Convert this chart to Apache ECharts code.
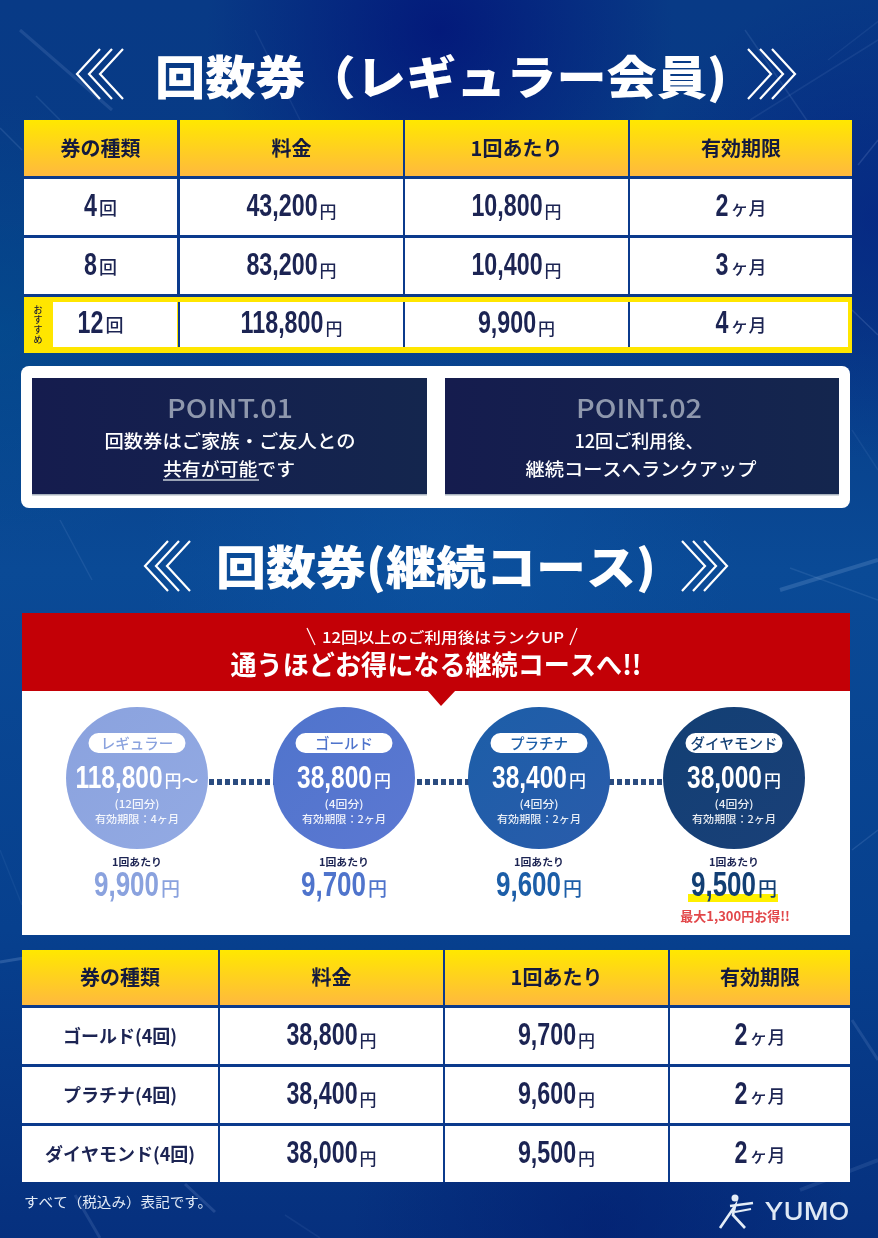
<!DOCTYPE html>
<html>
<head>
<meta charset="utf-8">
<style>html,body{margin:0;padding:0;background:#06307f}#main{width:878px;height:1238px}</style>
<script src="https://cdn.jsdelivr.net/npm/echarts@6/dist/echarts.min.js"></script>
</head>
<body>
<div id="main"></div>
<script>
// table headers
const headers = ['券の種類', '料金', '1回あたり', '有効期限'];

// 回数券 (レギュラー会員)
const regularCounts = [4, 8, 12];
const regularPrices = [43200, 83200, 118800];
const regularPerUse = [10800, 10400, 9900];
const regularMonths = [2, 3, 4];

// 継続コース
const courseNames = ['ゴールド', 'プラチナ', 'ダイヤモンド'];
const courseCounts = [4, 4, 4];
const coursePrices = [38800, 38400, 38000];
const coursePerUse = [9700, 9600, 9500];
const courseMonths = [2, 2, 2];

// rank ladder
const rankNames = ['レギュラー', 'ゴールド', 'プラチナ', 'ダイヤモンド'];
const rankPrices = [118800, 38800, 38400, 38000];
const rankCounts = [12, 4, 4, 4];
const rankMonths = [4, 2, 2, 2];
const rankPerUse = [9900, 9700, 9600, 9500];
const maxSaving = 1300;

const pointTitles = ['POINT.01', 'POINT.02'];

const JP = '"Noto Sans CJK JP"';
const NUM = '"Liberation Sans"';
const INK = '#1c2453';
const LINE = '#0b3a8c';
const rankColors = [['#8aa2de', '#93aae3'], ['#4f74cc', '#5c78d2'], ['#1c5ea8', '#2a5cab'], ['#123f74', '#1a4078']];
const rankCenters = [115, 322, 517, 712];   // axis units of the ladder grid

const yen = n => n.toLocaleString('en-US');
const measure = document.createElement('canvas').getContext('2d');

function textWidth(text, font) {
    measure.font = font;
    return measure.measureText(text).width;
}

// condensed number plus a small unit, centred on cx. no narrow font is installed so the digits get squeezed
function numberWithUnit(cx, cy, o) {
    var numFont = 'bold ' + o.size + 'px ' + NUM;
    var unitFont = '500 ' + o.unitSize + 'px ' + JP;
    var numW = textWidth(o.num, numFont) * o.squeeze;
    var left = cx - (numW + 2 + textWidth(o.unit, unitFont)) / 2;
    return [
        { type: 'text', x: left, y: cy, scaleX: o.squeeze, style: { text: o.num, font: numFont, fill: o.color, align: 'left', verticalAlign: 'middle' } },
        { type: 'text', x: left + numW + 2, y: cy + o.drop, style: { text: o.unit, font: unitFont, fill: o.color, align: 'left', verticalAlign: 'middle' } }
    ];
}

// text squeezed or stretched to the width it has on the poster
function fit(text, cx, cy, font, color, width, z) {
    return {
        type: 'text', x: cx, y: cy, z: z || 5, silent: true,
        scaleX: width ? width / textWidth(text, font) : 1,
        style: { text: text, font: font, fill: color, textAlign: 'center', textVerticalAlign: 'middle' }
    };
}

function chevrons(ends, dir, cy, half, arm) {
    return ends.map(function (x) {
        return {
            type: 'polyline', z: 5, silent: true,
            shape: { points: [[x, cy - half], [x + dir * arm, cy], [x, cy + half]] },
            style: { stroke: '#fff', lineWidth: 2.2, fill: null }
        };
    });
}

function streak(x1, y1, x2, y2, op, w) {
    return {
        type: 'line', z: -1, silent: true,
        shape: { x1: x1, y1: y1, x2: x2, y2: y2 },
        style: { stroke: 'rgba(190,215,255,' + op + ')', lineWidth: w || 1.5 }
    };
}

function glow(cx, cy, r, color) {
    return {
        type: 'rect', z: -2, silent: true,
        shape: { x: 0, y: 0, width: 878, height: 1238 },
        style: { fill: new echarts.graphic.RadialGradient(cx / 878, cy / 1238, r / 1238, [
            { offset: 0, color: color }, { offset: 1, color: color.replace(/[\d.]+\)$/, '0)') }
        ], false) }
    };
}

function tableCells(first, prices, perUse, months) {
    var cells = headers.map(function (h, c) { return { col: c, row: 0, head: true, text: h }; });
    prices.forEach(function (p, i) {
        cells.push(Object.assign({ col: 0, row: i + 1 }, first[i]));
        cells.push({ col: 1, row: i + 1, num: yen(p), unit: '円', unitSize: 17, drop: 4.5 });
        cells.push({ col: 2, row: i + 1, num: yen(perUse[i]), unit: '円', unitSize: 17, drop: 4.5 });
        cells.push({ col: 3, row: i + 1, num: String(months[i]), unit: 'ヶ月', unitSize: 18, drop: 1 });
    });
    return cells;
}

function tableSeries(gridIndex, cols, rows, cells, featured) {
    return {
        type: 'custom', xAxisIndex: gridIndex, yAxisIndex: gridIndex, silent: true, z: 3,
        data: cells.map(function (c) { return [c.col, c.row]; }),
        renderItem: function (params, api) {
            var c = cells[params.dataIndex];
            var p0 = api.coord([cols[c.col][0], rows[c.row][0]]);
            var p1 = api.coord([cols[c.col][1], rows[c.row][1]]);
            var box = { x: p0[0], y: p0[1], width: p1[0] - p0[0], height: p1[1] - p0[1] };
            var kids = [];
            var cx = box.x + box.width / 2, cy = box.y + box.height / 2;
            if (c.head) {
                kids.push({ type: 'rect', shape: box, style: { fill: new echarts.graphic.LinearGradient(0, 0, 0, 1, [
                    { offset: 0, color: '#ffe800' }, { offset: 1, color: '#ffb93e' }
                ]) } });
                kids.push({ type: 'text', x: cx, y: cy, style: { text: c.text, font: 'bold 20px ' + JP, fill: '#141a3e', align: 'center', verticalAlign: 'middle' } });
                return { type: 'group', children: kids };
            }
            var inner = box;
            if (c.row === featured) {
                if (c.col === 0) {
                    // yellow frame of the recommended row, drawn once under its cells
                    var right = api.coord([cols[cols.length - 1][1], rows[c.row][1]]);
                    kids.push({ type: 'rect', shape: { x: box.x, y: box.y, width: right[0] - box.x, height: box.height + 1 }, style: { fill: '#ffe600' } });
                }
                inner = {
                    x: box.x + (c.col === 0 ? 29 : 0), y: box.y + 5,
                    width: box.width - (c.col === 0 ? 29 : c.col === cols.length - 1 ? 4 : 0), height: box.height - 10
                };
                if (c.col > 0) {
                    kids.push({ type: 'rect', shape: { x: box.x - 2, y: inner.y, width: 2, height: inner.height }, style: { fill: LINE } });
                }
            }
            kids.push({ type: 'rect', shape: inner, style: { fill: '#fff' } });
            if (c.row === featured && c.col === 0) {
                kids.push({ type: 'text', x: box.x + 14, y: cy, style: { text: 'お\nす\nす\nめ', font: '500 9px ' + JP, fill: '#1a1a33', align: 'center', verticalAlign: 'middle', lineHeight: 10 } });
            }
            if (c.text) {
                kids.push({ type: 'text', x: cx, y: cy, style: { text: c.text, font: 'bold 18px ' + JP, fill: INK, align: 'center', verticalAlign: 'middle' } });
            } else {
                kids = kids.concat(numberWithUnit(cx, cy, { num: c.num, size: 31, squeeze: 0.75, unit: c.unit, unitSize: c.unitSize, drop: c.drop, color: INK }));
            }
            return { type: 'group', children: kids };
        }
    };
}

function hiddenAxis(gridIndex, max, inverse) {
    return { type: 'value', gridIndex: gridIndex, min: 0, max: max, inverse: !!inverse, show: false, splitLine: { show: false } };
}

const regularFirst = regularCounts.map(n => ({ num: String(n), unit: '回', unitSize: 18, drop: 1 }));
const courseFirst = courseNames.map((n, i) => ({ text: n + '(' + courseCounts[i] + '回)' }));

const cols1 = [[0, 153], [156, 379], [381, 604], [606, 828]];
const rows1 = [[0, 56], [59, 115], [118, 174], [177, 232]];
const cols2 = [[0, 196], [198, 421], [423, 646], [648, 828]];
const rows2 = [[0, 55], [58, 114], [117, 173], [176, 232]];

const bg = [
    glow(440, 30, 330, 'rgba(2,18,120,0.8)'),
    glow(878, 220, 340, 'rgba(6,30,130,0.6)'),
    glow(0, 330, 320, 'rgba(0,90,150,0.4)'),
    glow(440, 560, 420, 'rgba(14,90,170,0.4)'),
    glow(600, 1230, 350, 'rgba(2,28,110,0.6)'),
    streak(20, 30, 112, 110, 0.12, 3), streak(36, 96, 60, 120, 0.1), streak(0, 128, 22, 150, 0.12),
    streak(255, 30, 300, 120, 0.07), streak(745, 30, 808, 122, 0.1), streak(828, 60, 880, 20, 0.07),
    streak(750, 120, 878, 40, 0.08), streak(858, 165, 878, 140, 0.14), streak(852, 310, 878, 335, 0.14),
    streak(60, 520, 92, 580, 0.09), streak(780, 590, 878, 560, 0.16, 4), streak(790, 568, 878, 600, 0.1),
    streak(852, 430, 878, 470, 0.07), streak(0, 850, 22, 905, 0.06), streak(852, 850, 878, 830, 0.12),
    streak(0, 962, 24, 958, 0.18, 3), streak(185, 1184, 215, 1212, 0.14, 3), streak(75, 1195, 100, 1238, 0.12, 3),
    streak(285, 1215, 320, 1238, 0.07), streak(800, 1190, 878, 1160, 0.1, 4), streak(852, 1020, 878, 1060, 0.12, 3)
];

const logo = [
    { type: 'circle', z: 5, shape: { cx: 735, cy: 1198, r: 3.5 }, style: { fill: '#e4edf7' } },
    { type: 'polyline', z: 5, shape: { points: [[730, 1206], [753, 1203]] }, style: { stroke: '#e4edf7', lineWidth: 2.6, fill: null } },
    { type: 'polyline', z: 5, shape: { points: [[720, 1228], [735, 1206], [733, 1215], [745, 1228]] }, style: { stroke: '#e4edf7', lineWidth: 2.6, fill: null } },
    { type: 'polyline', z: 5, shape: { points: [[735, 1212], [751, 1209]] }, style: { stroke: '#e4edf7', lineWidth: 2.2, fill: null } },
    fit('YUMO', 807, 1213, '500 24px Inter', '#dfe9f5', 85)
];

const panelBoxFill = () => new echarts.graphic.LinearGradient(0, 0, 1, 0, [{ offset: 0, color: '#151c4e' }, { offset: 1, color: '#14264e' }]);
const ptFont = '500 18px ' + JP;

const panel = [
    { type: 'rect', z: 4, shape: { x: 21, y: 366, width: 829, height: 142, r: 8 }, style: { fill: '#fff' } },
    { type: 'rect', z: 5, shape: { x: 32, y: 378, width: 395, height: 117 }, style: { fill: panelBoxFill() } },
    { type: 'rect', z: 5, shape: { x: 445, y: 378, width: 394, height: 117 }, style: { fill: panelBoxFill() } },
    { type: 'rect', z: 5, shape: { x: 32, y: 494, width: 395, height: 1.5 }, style: { fill: '#a8b2bd' } },
    { type: 'rect', z: 5, shape: { x: 445, y: 494, width: 394, height: 1.5 }, style: { fill: '#a8b2bd' } },
    fit(pointTitles[0], 230, 408, '500 26px ' + JP, '#8f98ad', 126, 6),
    fit(pointTitles[1], 639, 408, '500 26px ' + JP, '#8f98ad', 126, 6),
    fit('回数券はご家族・ご友人との', 230, 441, ptFont, '#fff', 251, 6),
    fit('共有が可能です', 229, 469, ptFont, '#fff', 132, 6),
    { type: 'rect', z: 6, shape: { x: 163, y: 479, width: 96, height: 2 }, style: { fill: '#9aa3b5' } },
    fit('12回ご利用後、', 639, 441, ptFont, '#fff', 129, 6),
    fit('継続コースへランクアップ', 641, 469, ptFont, '#fff', 231, 6)
];

const banner = [
    { type: 'rect', z: 4, shape: { x: 22, y: 613, width: 828, height: 78 }, style: { fill: '#c30006' } },
    { type: 'polygon', z: 4, shape: { points: [[427, 690], [456, 690], [441, 706]] }, style: { fill: '#c30006' } },
    fit('12回以上のご利用後はランクUP', 443, 637, '500 15px ' + JP, '#fff', 242),
    fit('通うほどお得になる継続コースへ!!', 436, 665, 'bold 27px ' + JP, '#fff', 411),
    { type: 'line', z: 5, shape: { x1: 307, y1: 628, x2: 315, y2: 645 }, style: { stroke: '#fff', lineWidth: 1.2 } },
    { type: 'line', z: 5, shape: { x1: 577, y1: 628, x2: 570, y2: 645 }, style: { stroke: '#fff', lineWidth: 1.2 } }
];

const titles = [
    fit('回数券（レギュラー会員)', 441, 77, '900 46px ' + JP, '#fff', 572),
    fit('回数券(継続コース)', 436, 567, '900 46px ' + JP, '#fff', 440),
    fit('すべて（税込み）表記です。', 118, 1202, '14px ' + JP, '#e3ebf6', 188)
].concat(
    chevrons([100, 112, 123], -1, 74, 25, 23),
    chevrons([748, 760, 772], 1, 74, 25, 23),
    chevrons([168, 179, 190], -1, 566, 25, 23),
    chevrons([682, 693, 704], 1, 566, 25, 23)
);

const LADDER_Y = 87;   // circle centre, axis units
const SMALL = 'rgba(255,255,255,0.9)';

function small(text, x, y, width, font, color) {
    return { type: 'text', x: x, y: y, scaleX: width / textWidth(text, font), style: { text: text, font: font, fill: color, align: 'center', verticalAlign: 'middle' } };
}

function rankLabels(params, api) {
    var i = params.dataIndex;
    var c = api.coord([rankCenters[i], LADDER_Y]);
    var color = rankColors[i][0];
    var x = c[0], y = c[1];
    var kids = [
        { type: 'rect', shape: { x: x - 48.5, y: y - 45, width: 97, height: 20, r: 10 }, style: { fill: '#fff' } },
        { type: 'text', x: x, y: y - 35, style: { text: rankNames[i], font: '500 14.5px ' + JP, fill: color, align: 'center', verticalAlign: 'middle' } },
        small('(' + rankCounts[i] + '回分)', x, y + 26, i === 0 ? 45 : 39, '500 10.5px ' + JP, SMALL),
        small('有効期限：' + rankMonths[i] + 'ヶ月', x, y + 41, 84, '500 10.5px ' + JP, SMALL),
        small('1回あたり', x, y + 84, 50, 'bold 10.5px ' + JP, INK)
    ].concat(numberWithUnit(x, y + 1, {
        num: yen(rankPrices[i]), size: 31, squeeze: 0.79, unit: i === 0 ? '円～' : '円', unitSize: 17, drop: 1.7, color: '#fff'
    }));
    if (i === rankNames.length - 1) {
        kids.push({ type: 'rect', shape: { x: x - 46, y: y + 116, width: 90, height: 8 }, style: { fill: '#fff000' } });
        kids.push({ type: 'text', x: x + 1, y: y + 138, style: { text: '最大' + yen(maxSaving) + '円お得!!', font: 'bold 13px ' + JP, fill: '#e2474a', align: 'center', verticalAlign: 'middle' } });
    }
    kids = kids.concat(numberWithUnit(x, y + 108, { num: yen(rankPerUse[i]), size: 35, squeeze: 0.74, unit: '円', unitSize: 19, drop: 2.3, color: color }));
    return { type: 'group', children: kids };
}

var chart = echarts.init(document.getElementById('main'), null, { renderer: 'canvas' });
chart.setOption({
    animation: false,
    backgroundColor: new echarts.graphic.LinearGradient(0, 0, 0, 1, [
        { offset: 0, color: '#083a86' },
        { offset: 0.25, color: '#073c86' },
        { offset: 0.46, color: '#0a4a96' },
        { offset: 0.75, color: '#07408e' },
        { offset: 1, color: '#06307e' }
    ]),
    grid: [
        { left: 24, top: 120, width: 828, height: 232, show: true, backgroundColor: LINE, borderWidth: 0, z: 1 },
        { left: 22, top: 691, width: 828, height: 244, show: true, backgroundColor: '#fff', borderWidth: 0, z: 1 },
        { left: 22, top: 950, width: 828, height: 232, show: true, backgroundColor: LINE, borderWidth: 0, z: 1 }
    ],
    xAxis: [hiddenAxis(0, 828), hiddenAxis(1, 828), hiddenAxis(2, 828)],
    yAxis: [hiddenAxis(0, 232, true), hiddenAxis(1, 244, true), hiddenAxis(2, 232, true)],
    graphic: { elements: bg.concat(titles, panel, banner, logo) },
    series: [
        tableSeries(0, cols1, rows1, tableCells(regularFirst, regularPrices, regularPerUse, regularMonths), 3),
        tableSeries(2, cols2, rows2, tableCells(courseFirst, coursePrices, coursePerUse, courseMonths), -1),
        {
            type: 'line', xAxisIndex: 1, yAxisIndex: 1, silent: true, z: 2, symbol: 'none',
            lineStyle: { color: '#2b4c80', width: 6, type: [5, 3] },
            data: rankCenters.map(function (x) { return [x, LADDER_Y + 4]; })
        },
        {
            type: 'scatter', xAxisIndex: 1, yAxisIndex: 1, silent: true, z: 3, symbolSize: 142,
            data: rankCenters.map(function (x, i) {
                return {
                    value: [x, LADDER_Y],
                    itemStyle: { opacity: 1, color: new echarts.graphic.LinearGradient(0, 0, 1, 1, [
                        { offset: 0, color: rankColors[i][0] }, { offset: 1, color: rankColors[i][1] }
                    ]) }
                };
            })
        },
        {
            type: 'custom', xAxisIndex: 1, yAxisIndex: 1, silent: true, z: 4,
            data: rankCenters.map(function (x) { return [x, LADDER_Y]; }),
            renderItem: rankLabels
        }
    ]
});
</script>
</body>
</html>
